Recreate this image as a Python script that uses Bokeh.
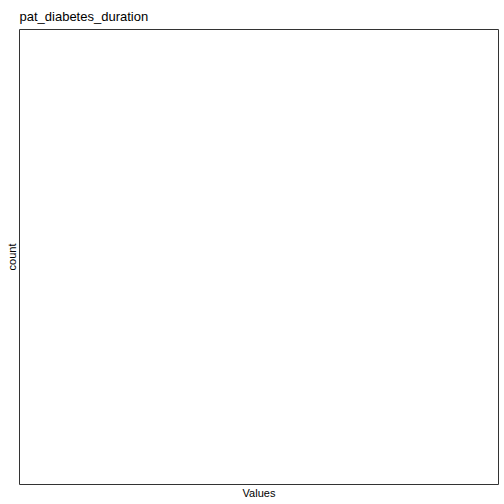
from bokeh.plotting import figure
from bokeh.models import Range1d, ColumnDataSource, FixedTicker
from bokeh.embed import file_html
from bokeh.resources import INLINE

# Data: the reference histogram shows no bars (empty data)
bin_left = []
bin_right = []
counts = []

title_text = "pat_diabetes_duration"
x_label = "Values"
y_label = "count"

p = figure(width=504, height=504, output_backend="svg", toolbar_location=None,
           x_range=Range1d(0, 1), y_range=Range1d(0, 1),
           min_border_left=19, min_border_right=6, min_border_top=29, min_border_bottom=20,
           title=title_text)
p.grid.visible = False
p.outline_line_color = "#333333"
p.outline_line_width = 1
p.background_fill_color = "white"
p.border_fill_color = "white"

font = "Liberation Sans"
p.title.text_font = font
p.title.text_font_size = "13px"
p.title.text_font_style = "normal"
p.title.text_color = "black"
p.title.offset = 0
p.title.standoff = 9
p.title.vertical_align = "middle"

for ax, lab in ((p.xaxis[0], x_label), (p.yaxis[0], y_label)):
    ax.ticker = FixedTicker(ticks=[])
    ax.axis_label = lab
    ax.axis_label_text_font = font
    ax.axis_label_text_font_size = "11px"
    ax.axis_label_text_font_style = "normal"
    ax.axis_label_text_color = "black"
    ax.axis_line_color = None
    ax.major_tick_out = 0
    ax.major_tick_in = 0
    ax.minor_tick_out = 0
    ax.minor_tick_in = 0
    ax.major_label_standoff = 0
    ax.axis_label_standoff = 2

src = ColumnDataSource(dict(left=bin_left, right=bin_right, top=counts, bottom=[0] * len(counts)))
p.quad(left="left", right="right", top="top", bottom="bottom", source=src,
       fill_color="#595959", line_color="white")

open("out.html", "w").write(file_html(p, INLINE))
